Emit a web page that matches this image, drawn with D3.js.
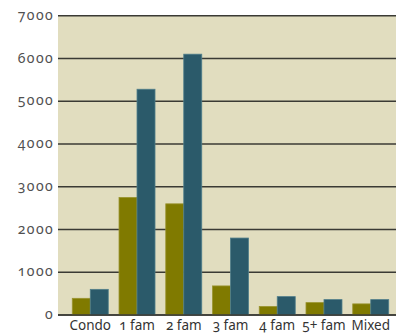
<!DOCTYPE html>
<html>
<head>
<meta charset="utf-8">
<script src="https://cdn.jsdelivr.net/npm/d3@7"></script>
<style>
  html, body { margin: 0; padding: 0; background: #ffffff; }
  svg { display: block; }
  text { font-family: "Noto Sans", "Open Sans", sans-serif; font-variant-numeric: oldstyle-nums; font-feature-settings: "onum" 1; }
</style>
</head>
<body>
<svg id="chart" width="396" height="335"></svg>
<script>
// Housing type categories along the x axis
const categories = ["Condo", "1 fam", "2 fam", "3 fam", "4 fam", "5+ fam", "Mixed"];
// Two series per category (olive first, teal second)
const seriesA = [390, 2750, 2600, 680, 200, 290, 260];
const seriesB = [600, 5280, 6100, 1800, 430, 360, 360];
const yTicks = [0, 1000, 2000, 3000, 4000, 5000, 6000, 7000];

const svg = d3.select("#chart");
const plot = { left: 58, right: 396, top: 15.7, bottom: 315 };

const y = d3.scaleLinear().domain([0, 7000]).range([plot.bottom, plot.top]);
const x = d3.scaleBand().domain(categories)
  .range([67.6, 393.4]).paddingInner(0.23).paddingOuter(0.1);
const sub = d3.scaleBand().domain(["a", "b"]).range([0, x.bandwidth()]);

// Plot background
svg.append("rect")
  .attr("x", plot.left).attr("y", plot.top)
  .attr("width", plot.right - plot.left).attr("height", plot.bottom - plot.top)
  .attr("fill", "#e1ddbf");

// Horizontal gridlines
const grid = svg.append("g");
grid.selectAll("line").data(yTicks).join("line")
  .attr("x1", plot.left).attr("x2", plot.right)
  .attr("y1", d => y(d)).attr("y2", d => y(d))
  .attr("stroke", "#3a3a34").attr("stroke-width", 1.4);

// Value labels at the left of each gridline
svg.append("g").selectAll("text").data(yTicks).join("text")
  .attr("x", plot.left - 4).attr("y", d => y(d)).attr("dy", "0.3em")
  .attr("text-anchor", "end")
  .style("font-size", "14px").style("letter-spacing", "1.4px").style("fill", "#505050")
  .text(d => d3.format("d")(d));

// Bars
const rows = categories.map((c, i) => ({ c, a: seriesA[i], b: seriesB[i] }));
const groups = svg.append("g").selectAll("g").data(rows).join("g")
  .attr("transform", d => `translate(${x(d.c)},0)`);

groups.append("rect")
  .attr("x", sub("a")).attr("width", sub.bandwidth())
  .attr("y", d => y(d.a)).attr("height", d => y(0) - y(d.a))
  .attr("fill", "#807a00").attr("stroke", "#9a9430").attr("stroke-width", 0.8);

groups.append("rect")
  .attr("x", sub("b")).attr("width", sub.bandwidth())
  .attr("y", d => y(d.b)).attr("height", d => y(0) - y(d.b))
  .attr("fill", "#2b5a6a").attr("stroke", "#507e8a").attr("stroke-width", 0.8);

// Baseline
svg.append("line")
  .attr("x1", plot.left).attr("x2", plot.right)
  .attr("y1", y(0)).attr("y2", y(0))
  .attr("stroke", "#3a3a34").attr("stroke-width", 1.6);

// Category labels
svg.append("g").selectAll("text").data(categories).join("text")
  .attr("x", d => x(d) + x.bandwidth() / 2).attr("y", plot.bottom + 15)
  .attr("text-anchor", "middle")
  .style("font-size", "13.5px").style("fill", "#333")
  .text(d => d);
</script>
</body>
</html>
